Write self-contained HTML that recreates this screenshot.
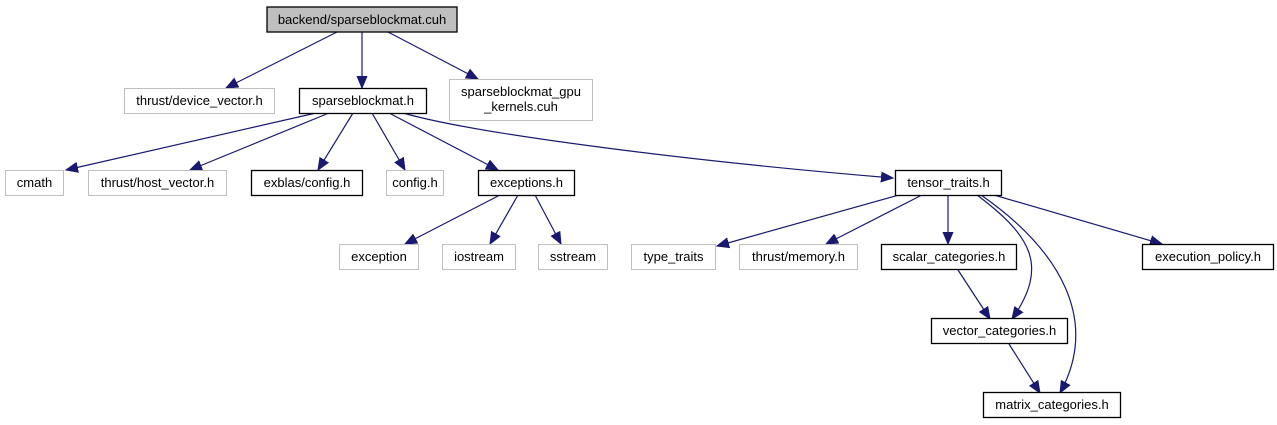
<!DOCTYPE html>
<html><head><meta charset="utf-8"><style>
html,body{margin:0;padding:0;background:#fff;}
svg{display:block;}
text{font-family:"Liberation Sans",sans-serif;font-size:13px;fill:#000;text-anchor:middle;}
.g{fill:#fff;stroke:#bfbfbf;stroke-width:1;}
.b{fill:#fff;stroke:#000;stroke-width:1.3;}
.e{fill:none;stroke:#191970;stroke-width:1.2;marker-end:url(#a);}
</style></head><body>
<svg width="1277" height="425" viewBox="0 0 1277 425" xmlns="http://www.w3.org/2000/svg">
<defs><marker id="a" markerUnits="userSpaceOnUse" markerWidth="14" markerHeight="12" refX="12" refY="6" orient="auto"><path d="M0,1 L12,6 L0,11 z" fill="#191970" stroke="#191970"/></marker></defs>
<path class="e" d="M337,32 L226,88"/>
<path class="e" d="M362,32 L362,88"/>
<path class="e" d="M388,32 L478,79"/>
<path class="e" d="M316,113 L66,170"/>
<path class="e" d="M329,113 L190,170"/>
<path class="e" d="M353,113 L318,170"/>
<path class="e" d="M372,113 L405,170"/>
<path class="e" d="M389,113 L498,170"/>
<path class="e" d="M403,113 C480,135 700,162 893,178"/>
<path class="e" d="M500,195 L405,244"/>
<path class="e" d="M518,195 L490,244"/>
<path class="e" d="M535,195 L561,244"/>
<path class="e" d="M899,195 L717,246"/>
<path class="e" d="M922,195 L826,244"/>
<path class="e" d="M948,195 L948,244"/>
<path class="e" d="M977,195 C1030,235 1050,265 1012,319"/>
<path class="e" d="M981,195 C1060,250 1100,320 1060,393"/>
<path class="e" d="M994,195 L1162,244"/>
<path class="e" d="M958,270 L990,319"/>
<path class="e" d="M1009,344 L1040,393"/>
<rect x="267" y="7" width="190" height="25" fill="#bfbfbf" stroke="#000" stroke-width="1.3"/>
<text x="362" y="24">backend/sparseblockmat.cuh</text>
<rect class="g" x="124.5" y="88.5" width="150" height="25"/><text x="199.5" y="105">thrust/device_vector.h</text>
<rect class="b" x="299.5" y="88.5" width="127" height="25"/><text x="363" y="105">sparseblockmat.h</text>
<rect class="g" x="449.5" y="79.5" width="143" height="41"/><text x="521" y="96">sparseblockmat_gpu</text><text x="521" y="111">_kernels.cuh</text>
<rect class="g" x="5.5" y="170.5" width="58" height="25"/><text x="34.5" y="187">cmath</text>
<rect class="g" x="88.5" y="170.5" width="138" height="25"/><text x="157.5" y="187">thrust/host_vector.h</text>
<rect class="b" x="251.5" y="170.5" width="111" height="25"/><text x="307" y="187">exblas/config.h</text>
<rect class="g" x="386.5" y="170.5" width="57" height="25"/><text x="415" y="187">config.h</text>
<rect class="b" x="478.5" y="170.5" width="96" height="25"/><text x="526.5" y="187">exceptions.h</text>
<rect class="b" x="895.5" y="170.5" width="106" height="25"/><text x="948.5" y="187">tensor_traits.h</text>
<rect class="g" x="339.5" y="244.5" width="79" height="25"/><text x="379" y="261">exception</text>
<rect class="g" x="442.5" y="244.5" width="73" height="25"/><text x="479" y="261">iostream</text>
<rect class="g" x="538.5" y="244.5" width="69" height="25"/><text x="573" y="261">sstream</text>
<rect class="g" x="631.5" y="244.5" width="84" height="25"/><text x="673.5" y="261">type_traits</text>
<rect class="g" x="739.5" y="244.5" width="118" height="25"/><text x="798.5" y="261">thrust/memory.h</text>
<rect class="b" x="881.5" y="244.5" width="135" height="25"/><text x="949" y="261">scalar_categories.h</text>
<rect class="b" x="1142.5" y="244.5" width="131" height="25"/><text x="1208" y="261">execution_policy.h</text>
<rect class="b" x="931.5" y="318.5" width="136" height="25"/><text x="999.5" y="335">vector_categories.h</text>
<rect class="b" x="983.5" y="392.5" width="137" height="25"/><text x="1052" y="409">matrix_categories.h</text>
</svg>
</body></html>
